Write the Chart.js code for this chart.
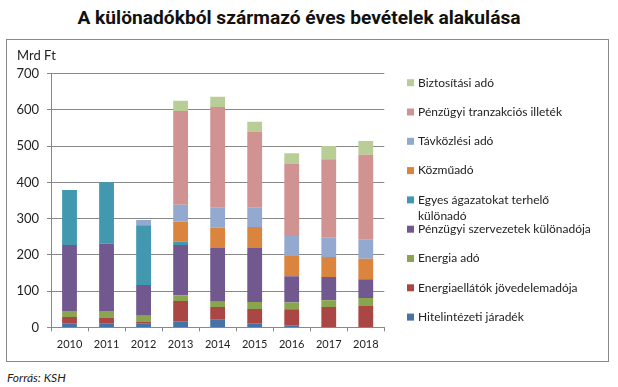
<!DOCTYPE html>
<html>
<head>
<meta charset="utf-8">
<script src="https://cdn.jsdelivr.net/npm/chart.js@4/dist/chart.umd.min.js"></script>
<style>
  body { margin: 0; background: #fff; width: 618px; height: 387px; position: relative; overflow: hidden; }
  #title { position: absolute; left: 0; top: 6px; width: 598px; text-align: center; font: bold 19.2px Roboto, sans-serif; color: #111; }
  #frame { position: absolute; left: 6px; top: 39px; width: 601px; height: 321px; border: 1px solid #888; }
  #unit { position: absolute; left: 10px; top: 7px; font: 13px Lato, sans-serif; color: #222; }
  #src { position: absolute; left: 7px; top: 370px; font: italic 12px Lato, sans-serif; color: #222; }
</style>
</head>
<body>
<div id="title">A különadókból származó éves bevételek alakulása</div>
<div id="frame">
  <canvas id="myChart" width="601" height="321"></canvas>
  <div id="unit">Mrd Ft</div>
</div>
<div id="src">Forrás: KSH</div>
<script>
const years = ['2010','2011','2012','2013','2014','2015','2016','2017','2018'];

const hitelintezeti = [10,10,10,17,21,10,6,0,0];
const energiaellatok = [19,17,5,56,35,41,44,56,59];
const energiaAdo = [16,18,17,16,15,19,19,19,22];
const penzugyiSzerv = [182,186,85,138,148,149,72,64,52];
const egyesAgazat = [152,169,165,9,0,0,0,0,0];
const kozmuado = [0,0,0,56,56,58,56,55,56];
const tavkozlesi = [0,0,14,46,55,53,55,53,53];
const tranzakcios = [0,0,0,259,278,209,199,217,234];
const biztositasi = [0,0,0,28,28,28,29,36,38];

const seriesNames = [
  'Hitelintézeti járadék',
  'Energiaellátók jövedelemadója',
  'Energia adó',
  'Pénzügyi szervezetek különadója',
  ['Egyes ágazatokat terhelő', 'különadó'],
  'Közműadó',
  'Távközlési adó',
  'Pénzügyi tranzakciós illeték',
  'Biztosítási adó'
];
const seriesData = [hitelintezeti, energiaellatok, energiaAdo, penzugyiSzerv, egyesAgazat, kozmuado, tavkozlesi, tranzakcios, biztositasi];
const seriesColors = ['#4572A7','#AA4643','#89A54E','#71588F','#4198AF','#DB843D','#93A9CF','#D19392','#B9CD96'];

const gridColor = '#888';

// legend drawn by hand so the spacing matches (top item = last series)
const sideLegend = {
  id: 'sideLegend',
  afterDraw(chart) {
    const ctx = chart.ctx;
    ctx.save();
    ctx.font = '12px Lato, sans-serif';
    ctx.textBaseline = 'middle';
    const n = chart.data.datasets.length;
    for (let i = 0; i < n; i++) {
      const ds = chart.data.datasets[n - 1 - i];
      const y = 42.7 + 29.3 * i;
      ctx.fillStyle = ds.backgroundColor;
      ctx.fillRect(400, y - 3.5, 7, 7);
      ctx.fillStyle = '#222';
      const lines = Array.isArray(ds.label) ? ds.label : [ds.label];
      lines.forEach((t, k) => ctx.fillText(t, 411, y + k * 16));
    }
    ctx.restore();
  }
};

new Chart('myChart', {
  type: 'bar',
  data: {
    labels: years,
    datasets: seriesData.map((d, i) => ({
      label: seriesNames[i],
      data: d,
      backgroundColor: seriesColors[i],
      borderWidth: 0,
      barPercentage: 0.4,
      categoryPercentage: 1
    }))
  },
  options: {
    responsive: false,
    animation: false,
    layout: { padding: { top: 33.6, right: 223.7, left: 0, bottom: 0 } },
    plugins: {
      legend: { display: false },
      tooltip: { enabled: false }
    },
    scales: {
      x: {
        stacked: true,
        afterFit: s => { s.height = 33.6; },
        grid: { drawOnChartArea: false, drawTicks: true, tickLength: 4, tickColor: gridColor, offset: true },
        border: { color: gridColor },
        ticks: { font: { family: 'Lato', size: 11 }, color: '#222', padding: 6, maxRotation: 0 }
      },
      y: {
        stacked: true,
        min: 0,
        max: 700,
        afterFit: s => { s.width = 44; },
        grid: { color: gridColor, tickColor: gridColor, tickLength: 4 },
        border: { color: gridColor },
        ticks: { stepSize: 100, font: { family: 'Lato', size: 13 }, color: '#222', padding: 8 }
      }
    }
  },
  plugins: [sideLegend]
});
</script>
</body>
</html>
